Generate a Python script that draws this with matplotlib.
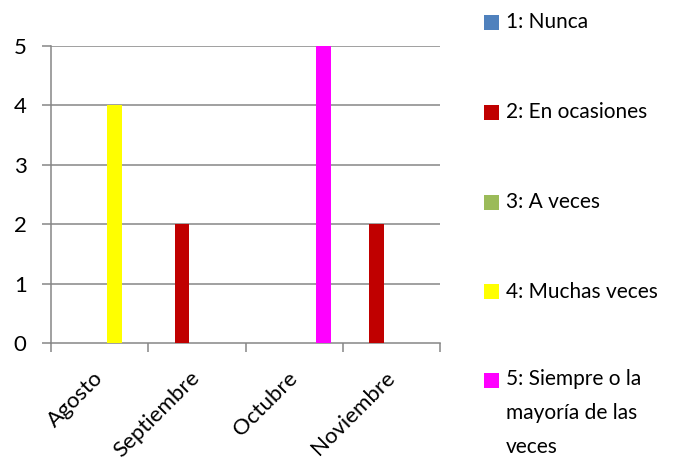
import matplotlib
matplotlib.use("Agg")
import matplotlib.pyplot as plt
from matplotlib.patches import Rectangle
import numpy as np

plt.rcParams['font.family'] = ['Lato', 'DejaVu Sans']

categories = ["Agosto", "Septiembre", "Octubre", "Noviembre"]
series_labels = ["1: Nunca", "2: En ocasiones", "3: A veces", "4: Muchas veces",
                 "5: Siempre o la\nmayoría de las\nveces"]
series_values = [
    [0, 0, 0, 0],
    [0, 2, 0, 2],
    [0, 0, 0, 0],
    [4, 0, 0, 0],
    [0, 0, 5, 0],
]
colors = ["#4F81BD", "#C00000", "#9BBB59", "#FFFF00", "#FF00FF"]
yticks = [0, 1, 2, 3, 4, 5]

FS = 16
LFS = 15
W, H = 686, 462
fig = plt.figure(figsize=(W / 100, H / 100), dpi=100)
ax = fig.add_axes([51 / W, 119 / H, 389 / W, 297 / H])

grid_c = "#868686"
n = len(series_values)
bw = 0.153
x = np.arange(len(categories))
for i, (vals, c) in enumerate(zip(series_values, colors)):
    ax.bar(x + (i - (n - 1) / 2) * bw, vals, width=bw, color=c, linewidth=0, zorder=3)

ax.set_xlim(-0.5, len(categories) - 0.5)
ax.set_ylim(0, 5)
ax.set_yticks(yticks)
ax.set_yticklabels([str(t) for t in yticks])
for yv in yticks[1:]:
    ax.axhline(yv, color=grid_c, linewidth=1.1, zorder=1)

ax.set_xticks(np.arange(len(categories) + 1) - 0.5)
ax.set_xticklabels([])
ax.set_xticks(x, minor=True)
ax.set_xticklabels(categories, minor=True, rotation=45, ha='right', va='center',
                   rotation_mode='anchor', fontsize=FS)
ax.tick_params(axis='x', which='minor', length=0, pad=23)
ax.tick_params(axis='x', which='major', length=6.5, width=1.1, color=grid_c, direction='out')
ax.tick_params(axis='y', length=6.5, width=1.1, color=grid_c, direction='out', pad=11, labelsize=FS)

for s in ['top', 'right']:
    ax.spines[s].set_visible(False)
for s in ['left', 'bottom']:
    ax.spines[s].set_color(grid_c)
    ax.spines[s].set_linewidth(1.1)

# legend
centers = [22, 112.5, 202, 291.5, 380.5]
pitch = 32.5
for lab, c, yc in zip(series_labels, colors, centers):
    fig.patches.append(Rectangle((484 / W, (H - yc - 7.5) / H), 15 / W, 15 / H,
                                 transform=fig.transFigure, facecolor=c, edgecolor='none'))
    nl = lab.count('\n')
    ymid = yc + nl * pitch / 2
    fig.text(506 / W, (H - ymid) / H, lab, fontsize=LFS, ha='left', va='center',
             linespacing=1.9, transform=fig.transFigure)

fig.savefig("out.png", dpi=100)
